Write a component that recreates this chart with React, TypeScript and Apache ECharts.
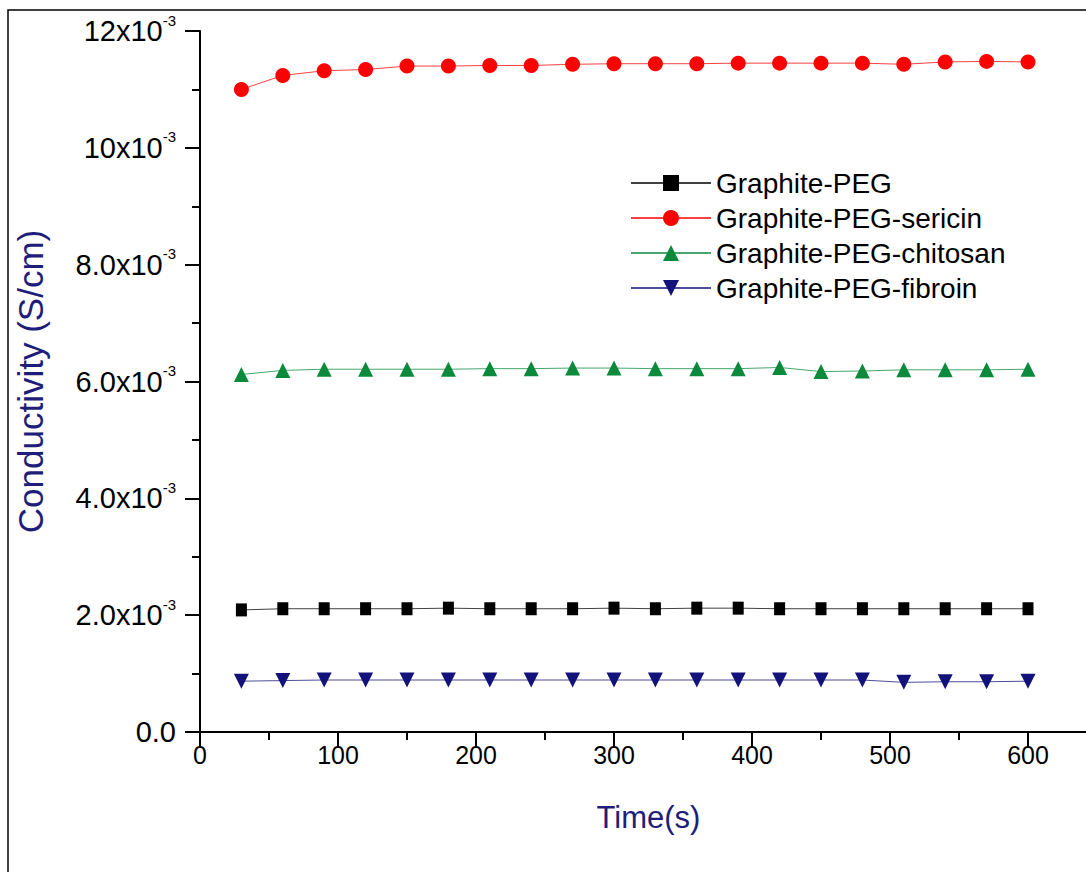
import React, { useEffect, useRef } from "react";
import * as echarts from "echarts";

const timeS = [30, 60, 90, 120, 150, 180, 210, 240, 270, 300, 330, 360, 390, 420, 450, 480, 510, 540, 570, 600];

const graphitePEG = [0.00209, 0.00211, 0.00211, 0.00211, 0.00211, 0.00212, 0.00211, 0.00211, 0.00211, 0.00212, 0.00211, 0.00212, 0.00212, 0.00211, 0.00211, 0.00211, 0.00211, 0.00211, 0.00211, 0.00211];
const graphitePEGSericin = [0.0110, 0.01124, 0.01132, 0.01134, 0.0114, 0.0114, 0.01141, 0.01141, 0.01143, 0.01144, 0.01144, 0.01144, 0.01145, 0.01145, 0.01145, 0.01145, 0.01143, 0.01147, 0.01148, 0.01147];
const graphitePEGChitosan = [0.00612, 0.00619, 0.00621, 0.00621, 0.00621, 0.00621, 0.00622, 0.00622, 0.00623, 0.00623, 0.00622, 0.00622, 0.00622, 0.00624, 0.00617, 0.00618, 0.0062, 0.0062, 0.0062, 0.00621];
const graphitePEGFibroin = [0.00087, 0.00088, 0.00089, 0.00089, 0.00089, 0.00089, 0.00089, 0.00089, 0.00089, 0.00089, 0.00089, 0.00089, 0.00089, 0.00089, 0.00089, 0.00089, 0.00085, 0.00086, 0.00086, 0.00087];

const seriesNames = ["Graphite-PEG", "Graphite-PEG-sericin", "Graphite-PEG-chitosan", "Graphite-PEG-fibroin"];
const xTitle = "Time(s)";
const yTitle = "Conductivity (S/cm)";

const FONT = "'Liberation Sans', Arial, Helvetica, sans-serif";
const NAVY = "#1e1e7a";

export default function App() {
  const ref = useRef<HTMLDivElement>(null);
  useEffect(() => {
    document.body.style.margin = "0";
    document.body.style.overflow = "hidden";
    document.documentElement.style.overflow = "hidden";
    const chart = echarts.init(ref.current!, null, { renderer: "svg" });
    const mk = (name: string, values: number[], color: string, symbol: string, size: any) => ({
      name,
      type: "line",
      data: timeS.map((t, i) => [t, values[i]]),
      symbol,
      symbolSize: size,
      itemStyle: { color },
      lineStyle: { color, width: 1, opacity: 0.75 },
      emphasis: { disabled: true },
    });
    chart.setOption({
      animation: false,
      backgroundColor: "#fff",
      graphic: [
        {
          type: "rect",
          shape: { x: 8, y: 10, width: 1200, height: 1000 },
          style: { fill: "none", stroke: "#000", lineWidth: 1.5 },
          silent: true,
        },
      ],
      grid: { left: 200, top: 31, right: 0, bottom: 140 },
      legend: {
        left: 625,
        top: 164,
        orient: "vertical",
        itemWidth: 80,
        itemHeight: 20,
        itemGap: 7,
        textStyle: { fontSize: 28, color: "#000", fontFamily: FONT },
        data: seriesNames,
      },
      xAxis: {
        type: "value",
        min: 0,
        max: 650,
        interval: 100,
        name: xTitle,
        nameLocation: "middle",
        nameGap: 70,
        nameTextStyle: { fontSize: 31, color: NAVY, fontFamily: FONT },
        axisLine: { show: true, onZero: false, lineStyle: { color: "#000", width: 2 } },
        axisTick: { show: true, length: 15, lineStyle: { color: "#000", width: 2 } },
        minorTick: { show: true, splitNumber: 2, length: 8, lineStyle: { color: "#000", width: 2 } },
        splitLine: { show: false },
        axisLabel: {
          margin: 10,
          fontSize: 25,
          color: "#000",
          fontFamily: FONT,
          formatter: (v: number) => (v % 100 === 0 && v <= 600 ? String(v) : ""),
        },
      },
      yAxis: {
        type: "value",
        min: 0,
        max: 0.012,
        interval: 0.002,
        name: yTitle,
        nameLocation: "middle",
        nameGap: 152,
        nameTextStyle: { fontSize: 35, color: NAVY, fontFamily: FONT },
        axisLine: { show: true, lineStyle: { color: "#000", width: 2 } },
        axisTick: { show: true, length: 15, lineStyle: { color: "#000", width: 2 } },
        minorTick: { show: true, splitNumber: 2, length: 8, lineStyle: { color: "#000", width: 2 } },
        splitLine: { show: false },
        axisLabel: {
          margin: 24,
          color: "#000",
          fontFamily: FONT,
          formatter: (v: number) => {
            const k = Math.round(v * 1000);
            if (k === 0) return "{b|0.0}";
            const m = k >= 10 ? String(k) : k.toFixed(1);
            return `{b|${m}x10}{s|-3}`;
          },
          rich: {
            b: { fontSize: 29, color: "#000", fontFamily: FONT },
            s: { fontSize: 15, color: "#000", fontFamily: FONT, padding: [0, 0, 22, 0] },
          },
        },
      },
      series: [
        mk(seriesNames[0], graphitePEG, "#000000", "rect", [11, 13]),
        mk(seriesNames[1], graphitePEGSericin, "#ff0000", "circle", 15),
        mk(seriesNames[2], graphitePEGChitosan, "#0a8a3a", "triangle", 15),
        mk(seriesNames[3], graphitePEGFibroin, "#12127a", "path://M0,0 L10,0 L5,10 Z", 15),
      ],
    });
    return () => chart.dispose();
  }, []);
  return <div ref={ref} style={{ width: 1100, height: 872 }} />;
}
